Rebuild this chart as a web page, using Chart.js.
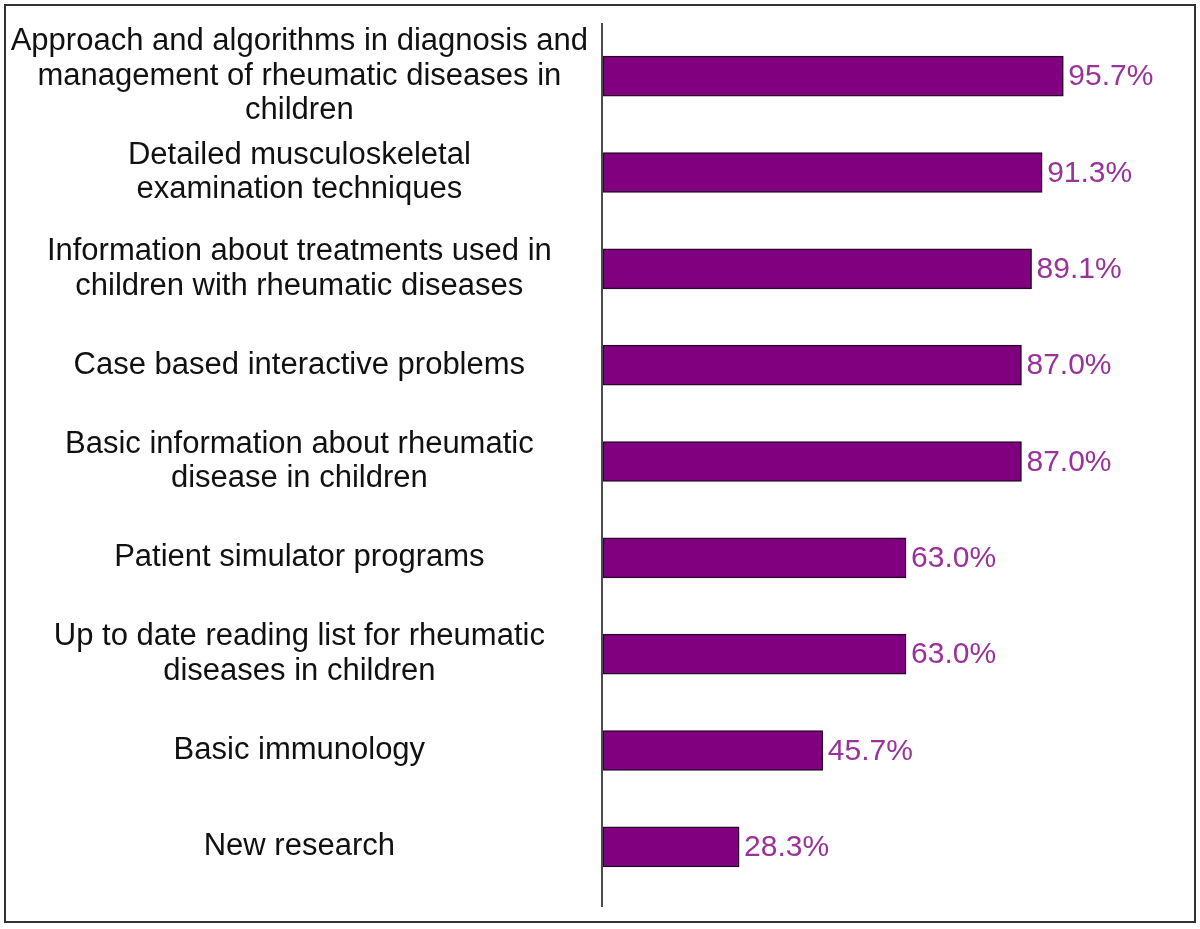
<!DOCTYPE html>
<html lang="en">
<head>
  <meta charset="UTF-8" />
  <title>Preferred course topics</title>
  <script src="https://cdn.jsdelivr.net/npm/chart.js"></script>
  <style>
    html, body { margin: 0; padding: 0; background: #fff; }
    #wrap { width: 1200px; height: 929px; position: relative; }
  </style>
</head>
<body>
  <div id="wrap"><canvas id="chart"></canvas></div>

  <script>
    // topics (top to bottom), values in percent
    const topics = [
      ['Approach and algorithms in diagnosis and', 'management of rheumatic diseases in', 'children'],
      ['Detailed musculoskeletal', 'examination techniques'],
      ['Information about treatments used in', 'children with rheumatic diseases'],
      ['Case based interactive problems'],
      ['Basic information about rheumatic', 'disease in children'],
      ['Patient simulator programs'],
      ['Up to date reading list for rheumatic', 'diseases in children'],
      ['Basic immunology'],
      ['New research']
    ];
    const percents = [95.7, 91.3, 89.1, 87.0, 87.0, 63.0, 63.0, 45.7, 28.3];

    const FONT = '"Liberation Sans", Arial, sans-serif';

    // frame round the whole picture + vertical axis line
    const framePlugin = {
      id: 'frame',
      beforeDraw(chart) {
        const ctx = chart.ctx;
        ctx.save();
        ctx.strokeStyle = '#333';
        ctx.lineWidth = 2;
        ctx.strokeRect(5, 5, 1190, 917);
        const a = chart.chartArea;
        ctx.strokeStyle = '#111';
        ctx.lineWidth = 1.5;
        ctx.beginPath();
        ctx.moveTo(a.left - 1, a.top - 5);
        ctx.lineTo(a.left - 1, a.bottom + 12);
        ctx.stroke();
        ctx.restore();
      }
    };

    // percentage labels at the end of each bar
    const valueLabels = {
      id: 'valueLabels',
      afterDatasetsDraw(chart) {
        const ctx = chart.ctx;
        const meta = chart.getDatasetMeta(0);
        ctx.save();
        ctx.font = '30px ' + FONT;
        ctx.fillStyle = '#993399';
        ctx.textAlign = 'left';
        ctx.textBaseline = 'middle';
        meta.data.forEach((bar, i) => {
          ctx.fillText(percents[i].toFixed(1) + '%', bar.x + 5, bar.y + 1);
        });
        ctx.restore();
      }
    };

    new Chart(document.getElementById('chart'), {
      type: 'bar',
      data: {
        labels: topics,
        datasets: [{
          data: percents,
          backgroundColor: '#800080',
          borderColor: '#2a062a',
          borderWidth: 1.5,
          borderSkipped: false,
          barThickness: 40
        }]
      },
      options: {
        indexAxis: 'y',
        responsive: true,
        maintainAspectRatio: false,
        animation: false,
        layout: { padding: { top: 28, bottom: 34, left: 0, right: 116 } },
        plugins: {
          legend: { display: false },
          tooltip: { enabled: false }
        },
        scales: {
          x: {
            min: 0,
            max: 100,
            display: false
          },
          y: {
            grid: { display: false, drawTicks: false },
            border: { display: false },
            afterFit(scale) {
              scale.width = 603;
              scale.paddingTop = 0;
              scale.paddingBottom = 0;
            },
            ticks: {
              autoSkip: false,
              crossAlign: 'center',
              padding: 15,
              color: '#111',
              font: { family: FONT, size: 31, lineHeight: 1.12 }
            }
          }
        }
      },
      plugins: [framePlugin, valueLabels]
    });
  </script>
</body>
</html>
